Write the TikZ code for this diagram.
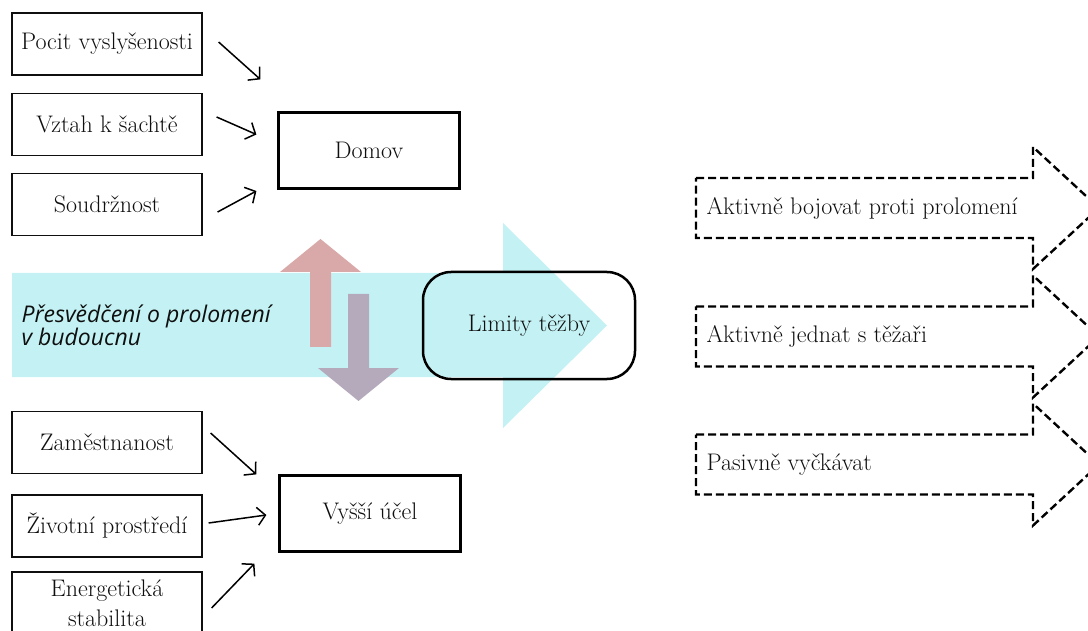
\documentclass[tikz,border=0pt]{standalone}
\usepackage{fontspec}
\newfontfamily\beliefont{Open Sans}
\usetikzlibrary{arrows.meta}
\definecolor{beliefcyan}{RGB}{196,242,244}
\definecolor{upred}{RGB}{216,169,168}
\definecolor{downviolet}{RGB}{180,170,188}
\definecolor{ink}{RGB}{15,15,15}
\tikzset{
    factor/.style={draw=ink, line width=1.2pt, minimum width=190pt, minimum height=62pt,
        inner sep=1pt, align=center, text=ink, font=\fontsize{24}{30}\selectfont},
    core/.style={draw=black, line width=2.2pt, minimum width=181pt, minimum height=76pt,
        text=ink, font=\fontsize{24}{26}\selectfont},
    link/.style={-{Straight Barb[length=8pt,width=18pt]}, line width=1.5pt},
    option/.style={draw=black, line width=2.4pt, dash pattern=on 8pt off 4pt},
}
\begin{document}
\begin{tikzpicture}[x=1pt,y=-1pt]
    \useasboundingbox (0,0) rectangle (1088,631);
    % belief arrow and the two small arrows
    \fill[beliefcyan] (12,273) -- (503,273) -- (503,223) -- (607,325.5)
        -- (503,428) -- (503,377) -- (12,377) -- cycle;
    \fill[upred] (310,347) -- (310,272) -- (280,272) -- (320.5,239)
        -- (361,272) -- (331,272) -- (331,347) -- cycle;
    \fill[downviolet] (348,294) -- (348,368) -- (318,368) -- (358.5,401)
        -- (399,368) -- (369,368) -- (369,294) -- cycle;
    \node[anchor=west, align=left, text=ink, font=\beliefont\itshape\fontsize{23}{23}\selectfont]
        (belief) at (18,325.5) {Přesvědčení o prolomení\\v budoucnu};
    \node[draw=black, line width=2.5pt, rounded corners=28pt, minimum width=212pt,
        minimum height=107pt, text=ink, font=\fontsize{24}{26}\selectfont]
        (limity) at (529,325.5) {Limity těžby};
    % home
    \node[factor] (pocit) at (107,44) {Pocit vyslyšenosti};
    \node[factor] (vztah) at (107,124.5) {Vztah k šachtě};
    \node[factor] (soudrznost) at (107,204.5) {Soudržnost};
    \node[core] (domov) at (369,150.5) {Domov};
    \draw[link] ([xshift=16pt,yshift=2pt]pocit.east) -- ([xshift=-17pt,yshift=32pt]domov.north west);
    \draw[link] ([xshift=14pt,yshift=7.5pt]vztah.east) -- ([xshift=-21pt,yshift=16pt]domov.west);
    \draw[link] ([xshift=15pt,yshift=-7.5pt]soudrznost.east) -- ([xshift=-21pt,yshift=-40.5pt]domov.west);
    % higher purpose
    \node[factor] (zamestnanost) at (107,442.5) {Zaměstnanost};
    \node[factor] (zivotni) at (107,526) {Životní prostředí};
    \node[factor] (energie) at (107,603) {Energetická\\stabilita};
    \node[core] (ucel) at (370,513.5) {Vyšší účel};
    \draw[link] ([xshift=8pt,yshift=9.5pt]zamestnanost.east) -- ([xshift=-22pt]ucel.north west);
    \draw[link] ([xshift=6pt,yshift=3pt]zivotni.east) -- ([xshift=-12pt,yshift=-1.5pt]ucel.west);
    \draw[link] ([xshift=9pt,yshift=-5pt]energie.east) -- ([xshift=-24pt,yshift=-11pt]ucel.south west);
    % strategies
    \foreach \yc/\txt [count=\i] in {208/Aktivně bojovat proti prolomení,
            336.5/Aktivně jednat s těžaři, 464.5/Pasivně vyčkávat}{
        \draw[option] (696,\yc-30) -- (1033,\yc-30) -- (1033,\yc-61) -- (1099,\yc)
            -- (1033,\yc+61) -- (1033,\yc+30) -- (696,\yc+30) -- cycle;
        \node[anchor=west, text=ink, font=\fontsize{24}{26}\selectfont] (strategie\i) at (703,\yc) {\txt};
    }
\end{tikzpicture}
\end{document}
